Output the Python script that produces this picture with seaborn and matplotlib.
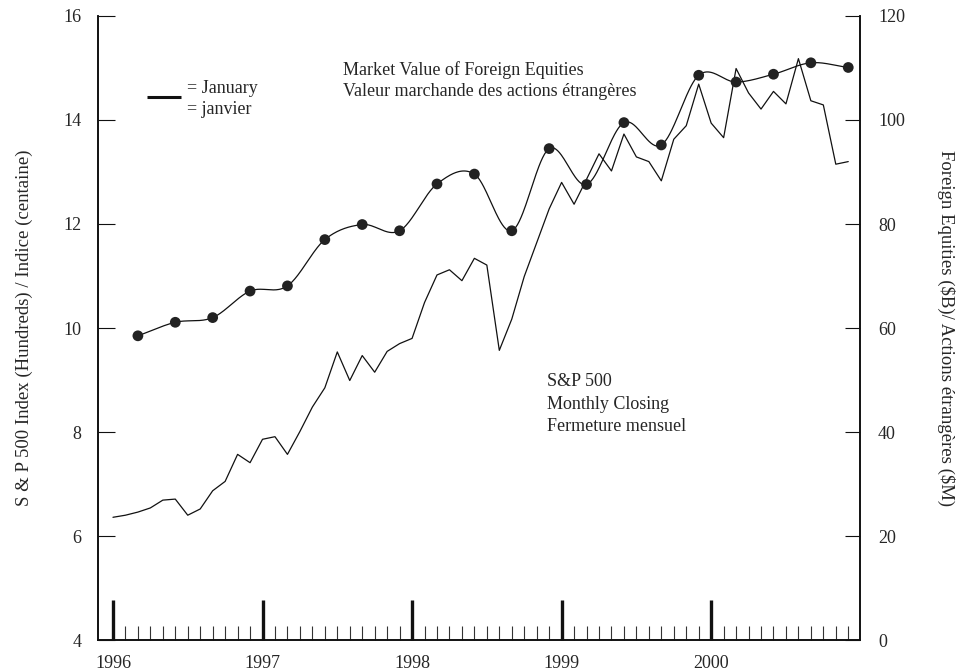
import numpy as np
import pandas as pd
import matplotlib
matplotlib.use("Agg")
import matplotlib.pyplot as plt
import seaborn as sns

# S&P 500 monthly closing, Jan 1996 - Dec 2000, in hundreds
sp500 = [6.36, 6.40, 6.46, 6.54, 6.69, 6.71, 6.40, 6.52, 6.87, 7.05, 7.57, 7.41,
         7.86, 7.91, 7.57, 8.01, 8.48, 8.85, 9.54, 8.99, 9.47, 9.15, 9.55, 9.70,
         9.80, 10.49, 11.02, 11.12, 10.91, 11.34, 11.21, 9.57, 10.17, 10.99, 11.64, 12.29,
         12.80, 12.38, 12.86, 13.35, 13.02, 13.73, 13.29, 13.20, 12.83, 13.63, 13.89, 14.69,
         13.94, 13.66, 14.99, 14.52, 14.21, 14.55, 14.31, 15.18, 14.37, 14.29, 13.15, 13.20]

# Market value of foreign equities, quarter ends (Mar, Jun, Sep, Dec), $B
foreign = [58.5, 61.1, 62.0, 67.1,
           68.1, 77.0, 79.9, 78.7,
           87.7, 89.6, 78.7, 94.5,
           87.6, 99.5, 95.2, 108.6,
           107.3, 108.8, 111.0, 110.1]

years = [1996, 1997, 1998, 1999, 2000]
year_labels = ["1996", "1997", "1998", "1999", "2000"]

sp_x = [1996 + i / 12 for i in range(len(sp500))]
fe_x = [1996 + (2 + 3 * k) / 12 for k in range(len(foreign))]

sp_df = pd.DataFrame({"date": sp_x, "index": sp500})
fe_df = pd.DataFrame({"date": fe_x, "value": foreign})


def smooth_curve(x, y, per_seg=40):
    """Catmull-Rom curve passing through every (x, y) point."""
    x = np.asarray(x, float)
    y = np.asarray(y, float)
    n = len(x)
    m = np.zeros(n)
    m[1:-1] = (y[2:] - y[:-2]) / (x[2:] - x[:-2])
    m[0] = (y[1] - y[0]) / (x[1] - x[0])
    m[-1] = (y[-1] - y[-2]) / (x[-1] - x[-2])
    xs, ys = [], []
    for i in range(n - 1):
        h = x[i + 1] - x[i]
        t = np.linspace(0, 1, per_seg, endpoint=(i == n - 2))
        h00 = 2 * t ** 3 - 3 * t ** 2 + 1
        h10 = t ** 3 - 2 * t ** 2 + t
        h01 = -2 * t ** 3 + 3 * t ** 2
        h11 = t ** 3 - t ** 2
        xs.append(x[i] + t * h)
        ys.append(h00 * y[i] + h10 * h * m[i] + h01 * y[i + 1] + h11 * h * m[i + 1])
    return np.concatenate(xs), np.concatenate(ys)


sns.set_style("white")
plt.rcParams["font.family"] = ["Liberation Serif", "DejaVu Serif"]
FS = 13

fig = plt.figure(figsize=(9.6, 6.72), dpi=100)
ax = fig.add_axes([0.1021, 0.0476, 0.7937, 0.9286])
ax2 = ax.twinx()

ink = "#111111"

# S&P 500 monthly closing line (left axis)
sns.lineplot(data=sp_df, x="date", y="index", ax=ax, color=ink, linewidth=0.9)

# Foreign equities: smooth curve through quarterly points (right axis)
cx, cy = smooth_curve(fe_x, foreign)
sns.lineplot(x=cx, y=cy, ax=ax2, color=ink, linewidth=0.9, sort=False)
sns.scatterplot(data=fe_df, x="date", y="value", ax=ax2, color="#222222",
                s=60, edgecolor="none", zorder=5)

ax.set_xlim(1995.9, 2000.995)
ax.set_ylim(4, 16)
ax2.set_ylim(0, 120)

ax.set_yticks([4, 6, 8, 10, 12, 14, 16])
ax2.set_yticks([0, 20, 40, 60, 80, 100, 120])

ax.set_xticks(years)
ax.set_xticklabels(year_labels)
ax.set_xticks([1996 + i / 12 for i in range(0, 60)], minor=True)

# January ticks tall and heavy, monthly ticks short
ax.tick_params(axis="x", which="major", direction="in", length=29, width=2.4,
               color=ink, pad=11, labelsize=FS, bottom=True)
ax.tick_params(axis="x", which="minor", direction="in", length=10, width=0.8,
               color="#333333", bottom=True)
ax.tick_params(axis="y", which="major", direction="in", length=12, width=0.8,
               color=ink, pad=12, labelsize=FS, left=True)
ax2.tick_params(axis="y", which="major", direction="in", length=11, width=0.8,
                color=ink, pad=13, labelsize=FS, right=True)
ax2.tick_params(axis="x", bottom=False, top=False)

for a in (ax, ax2):
    a.spines["top"].set_visible(False)
    for s in ("left", "right", "bottom"):
        a.spines[s].set_color(ink)
        a.spines[s].set_linewidth(1.2)

ax.set_xlabel("")
ax.set_ylabel("S & P 500 Index (Hundreds) / Indice (centaine)", fontsize=13.5,
              labelpad=22)
ax2.set_xlabel("")
ax2.set_ylabel(r"Foreign Equities (\$B)/ Actions étrangères (\$M)", fontsize=13.5,
               rotation=270, labelpad=36)

# Annotations
ax.text(1997.537, 14.76, "Market Value of Foreign Equities\nValeur marchande des actions étrangères",
        fontsize=FS, ha="left", va="center", linespacing=1.25)
ax.text(1998.90, 8.53, "S&P 500\nMonthly Closing\nFermeture mensuel",
        fontsize=FS, ha="left", va="center", linespacing=1.42)

# January marker key
ax.plot([1996.225, 1996.455], [14.44, 14.44], color=ink, linewidth=2.2,
        solid_capstyle="butt")
ax.text(1996.495, 14.40, "= January\n= janvier", fontsize=FS, ha="left",
        va="center", linespacing=1.35)

fig.savefig("out.png", dpi=100)
